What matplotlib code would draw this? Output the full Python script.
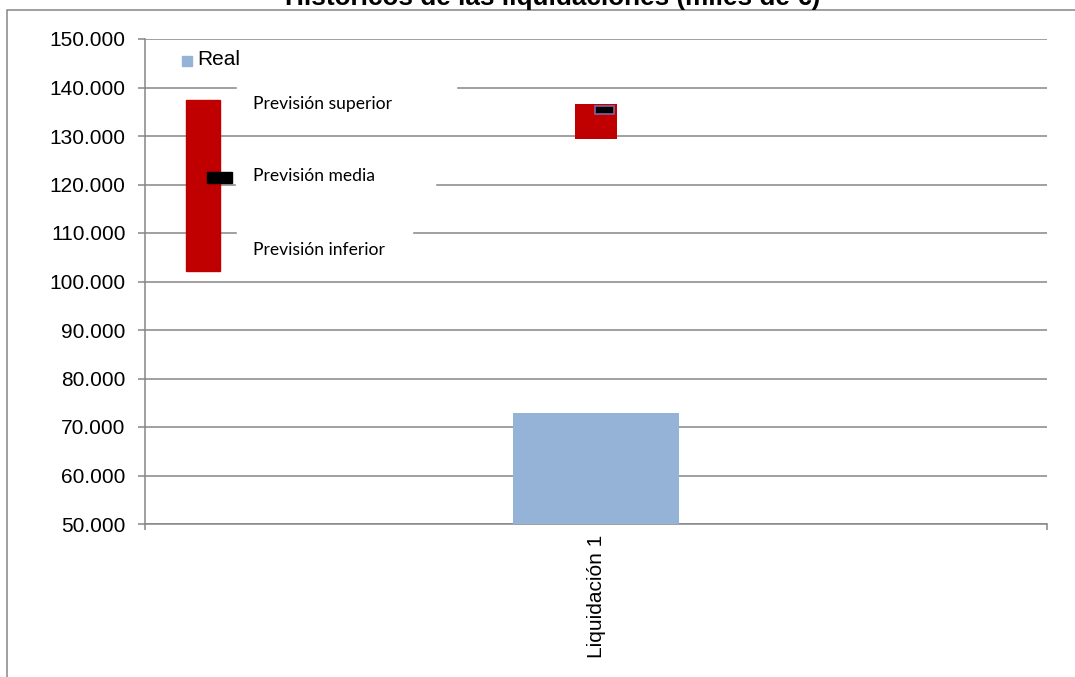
import matplotlib
matplotlib.use("Agg")
import matplotlib.pyplot as plt
from matplotlib.patches import Rectangle
from matplotlib.ticker import FuncFormatter

# data (miles de euros)
categories = ["Liquidación 1"]
real = [72900]
prev_superior = [136600]
prev_inferior = [129400]
prev_media = [135400]

plt.rcParams["font.family"] = ["Liberation Sans", "DejaVu Sans"]
grid_col = "#868686"

fig = plt.figure(figsize=(10.75, 6.77), dpi=100)
ax = fig.add_axes([145 / 1075, 1 - 524 / 677, 902 / 1075, 485 / 677])

x = list(range(len(categories)))
ax.bar(x, real, width=0.183, color="#95b3d7", zorder=3)
ranges = [s - i for s, i in zip(prev_superior, prev_inferior)]
ax.bar(x, ranges, bottom=prev_inferior, width=0.047, color="#c00000", zorder=3)
ax.bar([p + 0.0095 for p in x], [1600] * len(x),
       bottom=[m - 800 for m in prev_media], width=0.022,
       color="black", edgecolor="#8064a2", linewidth=1.2, zorder=4)

ax.set_xlim(-0.5, len(categories) - 0.5)
ax.set_ylim(50000, 150000)
ax.set_yticks(range(50000, 150001, 10000))
ax.yaxis.set_major_formatter(FuncFormatter(lambda v, p: f"{int(v):,}".replace(",", ".")))
ax.set_xticks(x)
ax.set_xticklabels(categories, rotation=90)
ax.set_xticks([-0.5 + i for i in range(len(categories) + 1)], minor=True)

ax.grid(axis="y", color=grid_col, linewidth=1.1, zorder=0)
ax.set_axisbelow(True)
for s in ["top", "right"]:
    ax.spines[s].set_visible(False)
for s in ["left", "bottom"]:
    ax.spines[s].set_color(grid_col)
    ax.spines[s].set_linewidth(1.1)
ax.tick_params(axis="y", length=5, width=1.1, color=grid_col, pad=9, labelsize=15)
ax.tick_params(axis="x", which="major", length=0, pad=8, labelsize=15)
ax.tick_params(axis="x", which="minor", length=4.5, width=1.1, color=grid_col)

# legend-like decorations
tr = ax.transAxes
ax.add_patch(Rectangle((0.041, 0.944), 0.011, 0.021, color="#95b3d7", transform=tr, zorder=6))
ax.text(0.0576, 0.957, "Real", transform=tr, fontsize=15, va="center", zorder=6)

ax.add_patch(Rectangle((0.0455, 0.5216), 0.0376, 0.3524, color="#c00000", transform=tr, zorder=5))
ax.add_patch(Rectangle((0.0687, 0.703), 0.0278, 0.0228, color="black", transform=tr, zorder=6))

boxes = [(0.102, 0.8227, 0.2428, 0.0969, 0.866, "Previsión superior"),
         (0.1009, 0.668, 0.2206, 0.099, 0.7176, "Previsión media"),
         (0.102, 0.5196, 0.194, 0.0948, 0.565, "Previsión inferior")]
for bx, by, bw, bh, ty, label in boxes:
    ax.add_patch(Rectangle((bx, by), bw, bh, color="white", transform=tr, zorder=2))
    ax.text(0.1197, ty, label, transform=tr, fontsize=12.6, va="center",
            family=["Lato", "DejaVu Sans"], zorder=6)

fig.text(553 / 1075, 1 - 5 / 677, "Históricos de las liquidaciones (miles de €)",
         ha="center", va="baseline", fontsize=18.8, fontweight="bold")

fig.add_artist(Rectangle((7 / 1075, -0.05), 1.2, 1 - 10 / 677 + 0.05,
                         transform=fig.transFigure, fill=False,
                         edgecolor=grid_col, linewidth=1.1))

fig.savefig("out.png", dpi=100)
